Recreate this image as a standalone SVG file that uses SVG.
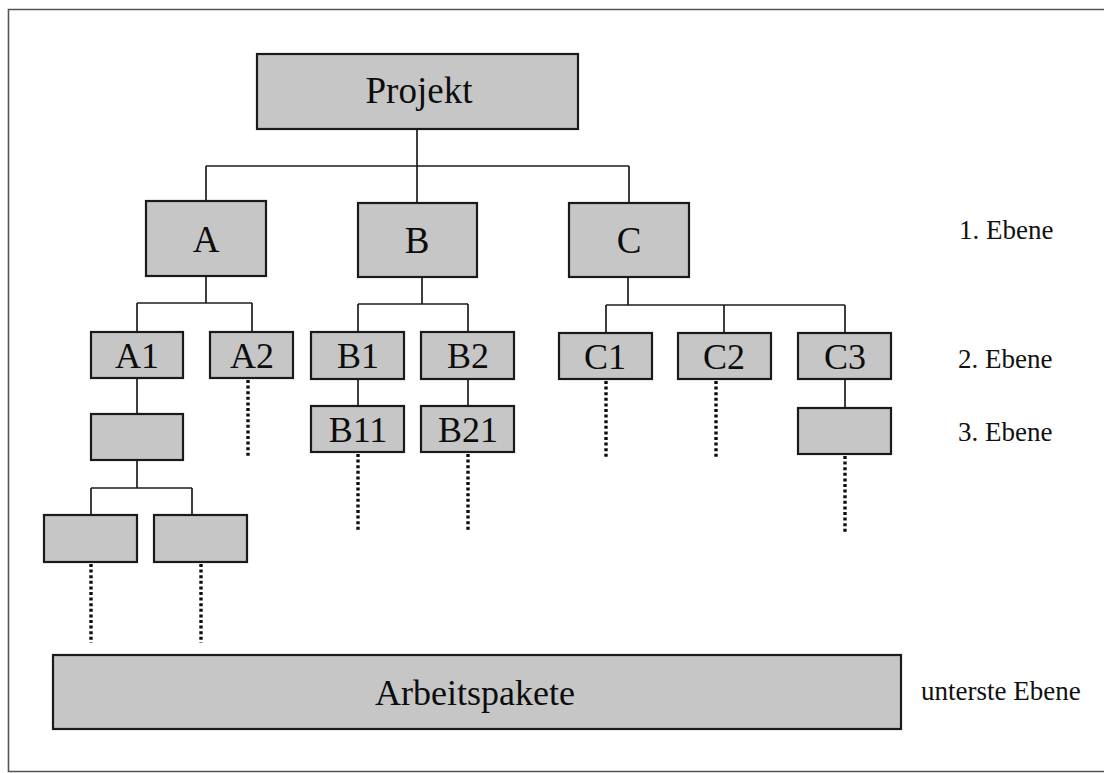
<svg xmlns="http://www.w3.org/2000/svg" width="1104" height="773" viewBox="0 0 1104 773">
  <style>
    .box { fill: #c6c6c6; stroke: #1a1a1a; stroke-width: 2.2; }
    .lbl { font-family: "Liberation Serif", "Times New Roman", serif; fill: #0d0d0d; text-anchor: middle; }
    .big { font-size: 37px; }
    .mid { font-size: 36px; }
    .side { font-family: "Liberation Serif", "Times New Roman", serif; fill: #111; font-size: 27px; }
    .ln { fill: none; stroke: #1e1e1e; stroke-width: 1.7; }
    .dot { fill: none; stroke: #0d0d0d; stroke-width: 3.4; stroke-dasharray: 3 2.6; }
  </style>

  <rect width="1104" height="773" fill="#ffffff"/>

  <!-- frame -->
  <path d="M1104,9.5 H8.5 V771.5 H1104" fill="none" stroke="#555" stroke-width="1.6"/>

  <!-- connectors -->
  <g id="connectors">
    <path class="ln" d="M417,129 V166 M206,166 H629 M206,166 V201 M417,166 V203 M629,166 V203"/>
    <path class="ln" d="M206,276 V303 M137,303 H252 M137,303 V332 M252,303 V332"/>
    <path class="ln" d="M137,378 V414 M137,460 V488 M91,488 H192 M91,488 V515 M192,488 V515"/>
    <path class="ln" d="M422,277 V304 M358,304 H468 M358,304 V332 M468,304 V332 M358,379 V406 M468,379 V406"/>
    <path class="ln" d="M628,277 V305 M606,305 H845 M606,305 V333 M724,305 V333 M845,305 V333 M845,379 V408"/>
    <path class="dot" d="M248,380 V458 M358,454 V531 M468,454 V531 M606,381 V458 M716,381 V458 M845,456 V534 M91,564 V643 M201,564 V643"/>
  </g>

  <g id="projekt">
    <rect class="box" x="257" y="54" width="321" height="75"/>
    <text class="lbl big" x="419" y="103">Projekt</text>
  </g>

  <g id="node-a">
    <rect class="box" x="146" y="201" width="120" height="75"/>
    <text class="lbl big" x="206" y="252">A</text>
  </g>
  <g id="node-b">
    <rect class="box" x="358" y="203" width="119" height="74"/>
    <text class="lbl big" x="417" y="253">B</text>
  </g>
  <g id="node-c">
    <rect class="box" x="569" y="203" width="120" height="74"/>
    <text class="lbl big" x="629" y="253">C</text>
  </g>

  <g id="node-a1">
    <rect class="box" x="91" y="332" width="92" height="46"/>
    <text class="lbl mid" x="137" y="368">A1</text>
  </g>
  <g id="node-a2">
    <rect class="box" x="210" y="332" width="83" height="46"/>
    <text class="lbl mid" x="252" y="368">A2</text>
  </g>
  <g id="node-a11">
    <rect class="box" x="91" y="414" width="92" height="46"/>
  </g>
  <g id="node-a111">
    <rect class="box" x="44" y="515" width="93" height="47"/>
  </g>
  <g id="node-a112">
    <rect class="box" x="154" y="515" width="93" height="47"/>
  </g>

  <g id="node-b1">
    <rect class="box" x="311" y="332" width="93" height="47"/>
    <text class="lbl mid" x="358" y="368">B1</text>
  </g>
  <g id="node-b2">
    <rect class="box" x="421" y="332" width="93" height="47"/>
    <text class="lbl mid" x="468" y="368">B2</text>
  </g>
  <g id="node-b11">
    <rect class="box" x="311" y="406" width="93" height="46"/>
    <text class="lbl mid" x="358" y="442">B11</text>
  </g>
  <g id="node-b21">
    <rect class="box" x="421" y="406" width="93" height="46"/>
    <text class="lbl mid" x="468" y="442">B21</text>
  </g>

  <g id="node-c1">
    <rect class="box" x="559" y="333" width="93" height="46"/>
    <text class="lbl mid" x="605" y="369">C1</text>
  </g>
  <g id="node-c2">
    <rect class="box" x="678" y="333" width="93" height="46"/>
    <text class="lbl mid" x="724" y="369">C2</text>
  </g>
  <g id="node-c3">
    <rect class="box" x="798" y="333" width="93" height="46"/>
    <text class="lbl mid" x="845" y="369">C3</text>
  </g>
  <g id="node-c31">
    <rect class="box" x="798" y="408" width="93" height="46"/>
  </g>

  <g id="arbeitspakete">
    <rect class="box" x="53" y="655" width="848" height="74"/>
    <text class="lbl" x="475" y="705" font-size="36">Arbeitspakete</text>
  </g>

  <!-- level captions -->
  <g id="levels">
    <text class="side" x="959" y="239">1. Ebene</text>
    <text class="side" x="958" y="368">2. Ebene</text>
    <text class="side" x="958" y="441">3. Ebene</text>
    <text class="side" x="921" y="700">unterste Ebene</text>
  </g>
</svg>
